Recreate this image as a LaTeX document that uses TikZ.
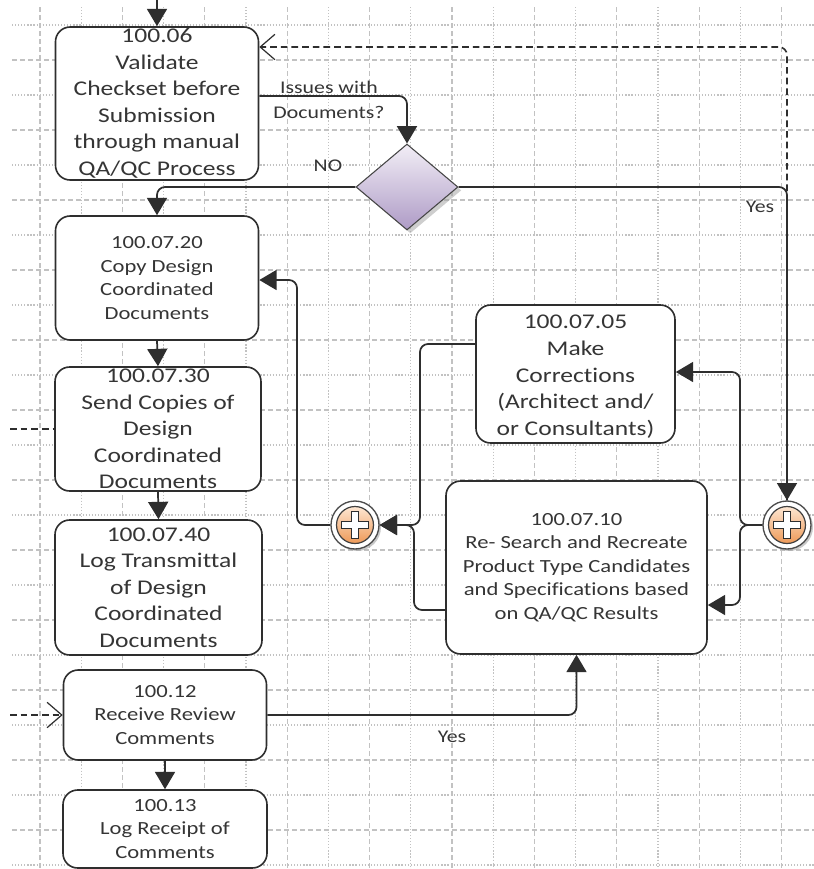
\documentclass[tikz,border=0pt]{standalone}
\usepackage{fontspec}
\setmainfont{Carlito}[FakeStretch=1.22, Ligatures=NoCommon]
\usetikzlibrary{arrows.meta,shapes.geometric,shadows}

\definecolor{ink}{HTML}{2E2E2E}
\definecolor{txt}{HTML}{353535}
\definecolor{gridc}{HTML}{C2C2C2}
\definecolor{diaTop}{HTML}{F2EEF6}
\definecolor{diaBot}{HTML}{AE9BC6}
\definecolor{orTop}{HTML}{FDE6D2}
\definecolor{orBot}{HTML}{EE9A58}

\tikzset{
  griddash/.style={gridc, line width=0.8pt, dash pattern=on 4pt off 2pt},
  griddot/.style={gridc, line width=0.8pt, dash pattern=on 0.9pt off 1.4pt},
  box/.style 2 args={minimum width=#1*0.75pt, minimum height=#2*0.75pt},
  task/.style={draw=ink, line width=1.2pt, rounded corners=11pt, fill=white, inner sep=0pt},
  bigtext/.style={font=\fontsize{15.7}{19.9}\selectfont, text=txt, align=center, inner sep=0pt},
  smalltext/.style={font=\fontsize{13.9}{17.6}\selectfont, text=txt, align=center, inner sep=0pt},
  lbl/.style={font=\fontsize{13.4}{18.6}\selectfont, text=txt, align=center, inner sep=0pt},
  flow/.style={draw=ink, line width=1.3pt, rounded corners=6pt, -{Triangle[length=13pt,width=15pt]}},
  msg/.style={draw=ink, line width=1.2pt, dash pattern=on 5pt off 3pt, rounded corners=6pt},
  barb/.style={-{Straight Barb[length=11pt,width=19pt,line width=0.9pt]}},
  gateouter/.style={circle, minimum size=48*0.75pt, inner sep=0pt, draw=gray!60!black, line width=1pt, fill=white,
    drop shadow={shadow xshift=1.5pt, shadow yshift=-1.5pt, fill=gray!70, opacity=.6}},
  gateinner/.style={circle, minimum size=37*0.75pt, inner sep=0pt, draw=gray!50!black, line width=0.9pt,
    top color=orTop, bottom color=orBot},
  gatecross/.pic={
    \draw[fill=white, draw=ink, line width=0.8pt]
      (-13.5,-3.8) -- (-3.8,-3.8) -- (-3.8,-13.5) -- (3.8,-13.5) -- (3.8,-3.8) -- (13.5,-3.8)
      -- (13.5,3.8) -- (3.8,3.8) -- (3.8,13.5) -- (-3.8,13.5) -- (-3.8,3.8) -- (-13.5,3.8) -- cycle;
  }
}

\begin{document}
\begin{tikzpicture}[x=0.75pt, y=-0.75pt]
\useasboundingbox (0,0) rectangle (814,869);
\clip (0,0) rectangle (814,869);
\fill[white] (0,0) rectangle (814,869);

% background grid: dashed and dotted lines alternate
\foreach \gx in {40,122.4,...,830} \draw[griddash] (\gx,7) -- (\gx,869);
\foreach \gx in {81.2,163.6,...,830} \draw[griddot] (\gx,7) -- (\gx,869);
\foreach \gy in {25,95,...,869} \draw[griddot] (12,\gy) -- (814,\gy);
\foreach \gy in {60,130,...,869} \draw[griddash] (12,\gy) -- (814,\gy);

% task boxes
\node[task, box={203}{153}] (b0606) at (157,103.5) {};
\node[bigtext] (t0606) at (b0606) {100.06\\Validate\\Checkset before\\Submission\\through manual\\QA/QC Process};

\node[task, box={203}{124}] (b0720) at (157,278) {};
\node[smalltext] (t0720) at (b0720) {100.07.20\\Copy Design\\Coordinated\\Documents};

\node[task, box={206}{124}] (b0730) at (158,429) {};
\node[bigtext] (t0730) at (b0730) {100.07.30\\Send Copies of\\Design\\Coordinated\\Documents};

\node[task, box={207}{135}] (b0740) at (158.5,587.5) {};
\node[bigtext] (t0740) at (b0740) {100.07.40\\Log Transmittal\\of Design\\Coordinated\\Documents};

\node[task, box={203}{90}] (b12) at (165,715) {};
\node[smalltext] (t12) at (b12) {100.12\\Receive Review\\Comments};

\node[task, box={204}{78}] (b13) at (165,829) {};
\node[smalltext] (t13) at (b13) {100.13\\Log Receipt of\\Comments};

\node[task, box={199}{138}] (b0705) at (575.5,374) {};
\node[bigtext] (t0705) at ([yshift=-2pt]b0705.center) {100.07.05\\Make\\Corrections\\(Architect and/\\or Consultants)};

\node[task, box={261}{173}] (b0710) at (576.5,567.5) {};
\node[smalltext] (t0710) at (b0710) {100.07.10\\Re- Search and Recreate\\Product Type Candidates\\and Specifications based\\on QA/QC Results};

% decision
\node[diamond, box={102}{86}, inner sep=0pt, draw=gray!55!black, line width=0.8pt,
      top color=diaTop, bottom color=diaBot,
      drop shadow={shadow xshift=2.5pt, shadow yshift=-2.5pt, fill=gray!70, opacity=.55}] (dec) at (407,187) {};

% parallel gateways
\node[gateouter] (gwL) at (355,525) {};
\node[gateinner] (gwLin) at (gwL) {};
\pic at (gwL) {gatecross};
\node[gateouter] (gwR) at (787,525) {};
\node[gateinner] (gwRin) at (gwR) {};
\pic at (gwR) {gatecross};

% waypoints
\coordinate (top) at (157,0);
\coordinate (w1) at (407,96);
\coordinate (w2) at (157,187);
\coordinate (w3) at (787,187);
\coordinate (w4) at (787,47);
\coordinate (w5) at (297,280);
\coordinate (w6) at (420,344);
\coordinate (w7) at (414,610);
\coordinate (w8) at (740,372);
\coordinate (w9) at (740,605);
\coordinate (w10) at (576.5,715);
\coordinate (m1) at (10,429);
\coordinate (m2) at (10,715);

% message flows
\draw[msg, barb] (gwR.north) -- (w4) -- (b0606.east |- w4);
\draw[msg] (m1) -- (b0730.west |- m1);
\draw[msg, barb] (m2) -- (b12.west |- m2);

% sequence flows
\draw[flow] (top) -- (b0606.north);
\draw[flow] (b0606.east |- w1) -- (w1) -- (dec.north);
\draw[flow] (dec.west) -- (w2) -- (b0720.north);
\draw[flow] (dec.east) -- (w3) -- (gwR.north);
\draw[flow] (b0720.south) -- (b0730.north);
\draw[flow] (b0730.south) -- (b0740.north);
\draw[flow] (b12.south) -- (b13.north);
\draw[flow] (gwL.west) -- (w5 |- gwL) -- (w5) -- (b0720.east |- w5);
\draw[flow] (b0705.west |- w6) -- (w6) -- (w6 |- gwL) -- (gwL.east);
\draw[flow] (b0710.west |- w7) -- (w7) -- (w7 |- gwL) -- (gwL.east);
\draw[flow] (gwR.west) -- (w8 |- gwR) -- (w8) -- (b0705.east |- w8);
\draw[flow] (gwR.west) -- (w9 |- gwR) -- (w9) -- (b0710.east |- w9);
\draw[flow] (b12.east |- w10) -- (w10) -- (b0710.south);

% flow labels
\node[lbl] (lIss) at (329,100) {Issues with\\Documents?};
\node[lbl] (lNo) at (328,166) {NO};
\node[lbl] (lYes1) at (760,207) {Yes};
\node[lbl] (lYes2) at (452,737) {Yes};
\end{tikzpicture}
\end{document}
